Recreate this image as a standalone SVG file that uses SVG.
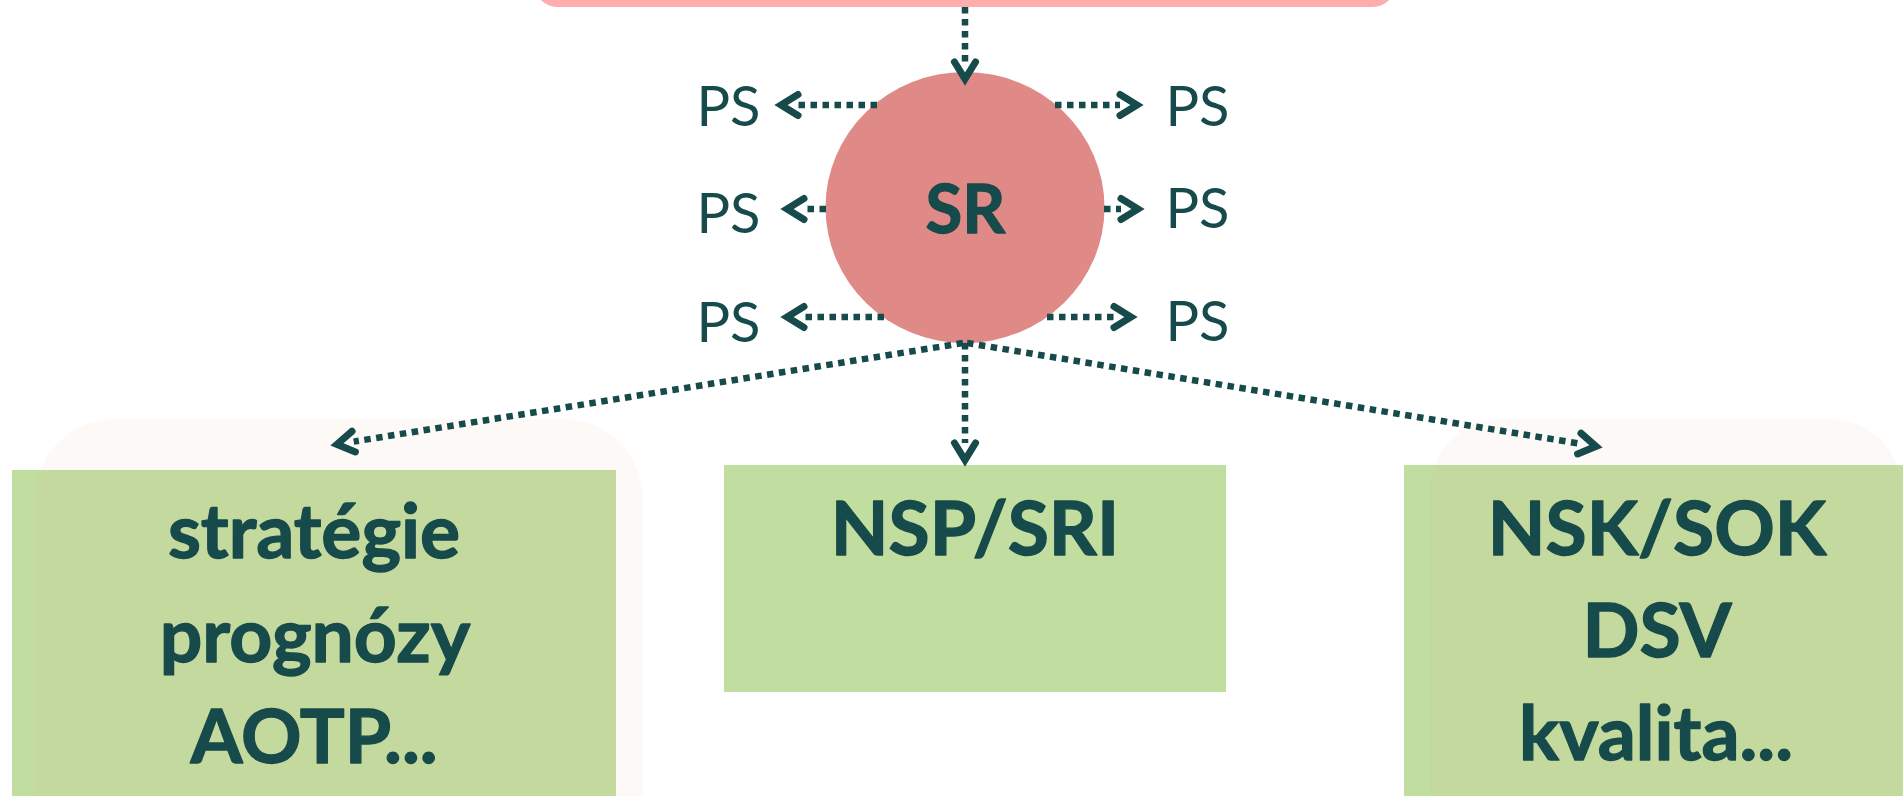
<svg xmlns="http://www.w3.org/2000/svg" width="1903" height="796" viewBox="0 0 1903 796">
  <style>
    .bold { font-family: Lato, "Open Sans", "Liberation Sans", sans-serif; font-weight: 700; fill: #174A4A; stroke: #174A4A; stroke-width: 1.3; stroke-linejoin: round; text-anchor: middle; }
    .big { font-size: 75px; }
    .sr { font-size: 67px; }
    .ps { font-family: Lato, "Open Sans", "Liberation Sans", sans-serif; font-weight: 400; font-size: 56px; fill: #174A4A; text-anchor: middle; }
    .green { fill: #C2DDA0; }
    .faint { fill: #E6A078; fill-opacity: 0.065; }
    .conn { fill: none; stroke: #174A4A; stroke-width: 6.5; stroke-dasharray: 6.5 5.5; marker-end: url(#chev); }
  </style>
  <defs>
    <marker id="chev" markerUnits="userSpaceOnUse" markerWidth="40" markerHeight="40" refX="0" refY="0" viewBox="-5 -20 40 40" orient="auto" overflow="visible">
      <path d="M 0 -10.5 L 17 0 L 0 10.5" fill="none" stroke="#174A4A" stroke-width="7" stroke-linejoin="miter" stroke-linecap="round"/>
    </marker>
  </defs>
  <rect width="1903" height="796" fill="#FFFFFF"/>

  <g id="top-box">
    <rect x="535" y="-60" width="860" height="67" rx="22" fill="#FEAEAD"/>
  </g>

  <g id="left-box">
    <rect class="green" x="12" y="470" width="604" height="340"/>
    <rect class="faint" x="35" y="419" width="608" height="460" rx="80"/>
    <text class="bold big" x="314" y="558">stratégie</text>
    <text class="bold big" x="315" y="662">prognózy</text>
    <text class="bold big" x="314" y="763">AOTP...</text>
  </g>

  <g id="middle-box">
    <rect class="green" x="724" y="465" width="502" height="227"/>
    <text class="bold big" x="975" y="555">NSP/SRI</text>
  </g>

  <g id="right-box">
    <rect class="green" x="1404" y="465" width="520" height="340"/>
    <rect class="faint" x="1430" y="419" width="472" height="460" rx="72"/>
    <text class="bold big" x="1657" y="555">NSK/SOK</text>
    <text class="bold big" x="1657" y="657">DSV</text>
    <text class="bold big" x="1656" y="760">kvalita...</text>
  </g>

  <g id="sr-node">
    <ellipse cx="965" cy="207.5" rx="139.5" ry="135.5" fill="#E08A88"/>
    <text class="bold sr" x="965.5" y="233">SR</text>
  </g>

  <g id="ps-labels">
    <text class="ps" x="728.5" y="126">PS</text>
    <text class="ps" x="728.5" y="233">PS</text>
    <text class="ps" x="728.5" y="342">PS</text>
    <text class="ps" x="1197.5" y="125.5">PS</text>
    <text class="ps" x="1197.5" y="228">PS</text>
    <text class="ps" x="1197.5" y="341">PS</text>
  </g>

  <g id="connectors">
    <path class="conn" d="M 965 7 L 965 62"/>
    <path class="conn" d="M 877 105 L 798 105"/>
    <path class="conn" d="M 1055 105 L 1120 105"/>
    <path class="conn" d="M 826 209 L 804 209"/>
    <path class="conn" d="M 1104 209 L 1121 209"/>
    <path class="conn" d="M 884 317 L 804 317"/>
    <path class="conn" d="M 1047 317 L 1114 317"/>
    <path class="conn" d="M 963 343 L 353.7 441.6"/>
    <path class="conn" d="M 967 343 L 1579.3 443.6"/>
    <path class="conn" d="M 965 343 L 965 443"/>
  </g>
</svg>
